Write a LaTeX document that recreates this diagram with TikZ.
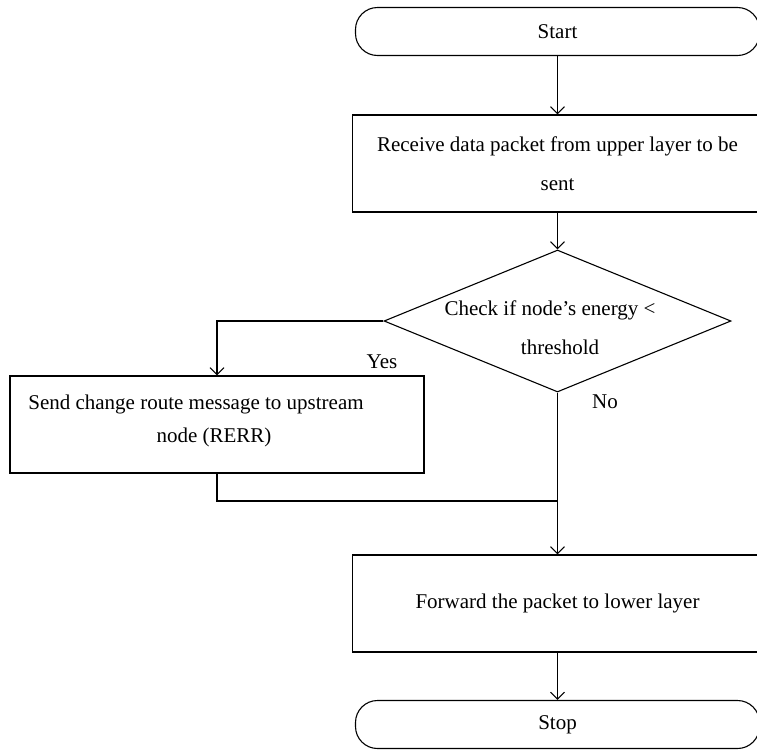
\documentclass[tikz,border=0pt]{standalone}
\usepackage{fontspec}
\setmainfont{Liberation Serif}
\usetikzlibrary{shapes.geometric,arrows.meta}
\begin{document}
\begin{tikzpicture}[x=1pt,y=-1pt,
  line width=1.1pt,
  every node/.style={font=\fontsize{21}{25}\selectfont},
  term/.style={draw,rectangle,rounded corners=22pt,minimum width=404pt,minimum height=48pt,inner sep=0pt},
  procbox/.style={draw,rectangle,minimum width=410pt,minimum height=97pt,inner sep=0pt,align=center},
  txt/.style={inner sep=0pt,anchor=center},
  arr/.style={-{Straight Barb[length=7pt,width=14pt]}}]
\useasboundingbox (0,0) rectangle (757,750);
% nodes
\node[term] (start) at (557.5,31.5) {Start};
\node[procbox] (recv) at (557.5,163.5) {Receive data packet from upper layer to be\\[14pt]sent};
\node[diamond,draw,minimum width=347pt,minimum height=142pt,inner sep=0pt] (chk) at (557.5,321) {};
\node[txt] (chk1) at (550,310) {Check if node’s energy <};
\node[txt] (chk2) at (560,347) {threshold};
\node[draw,rectangle,minimum width=414pt,minimum height=97pt,inner sep=0pt] (send) at (217,424.5) {};
\node[txt] (send1) at (196,404) {Send change route message to upstream};
\node[txt] (send2) at (214,437) {node (RERR)};
\node[procbox] (fwd) at (557.5,603.5) {Forward the packet to lower layer};
\node[term] (stop) at (557.5,724.5) {Stop};
\node[txt] (yes) at (382,362) {Yes};
\node[txt] (no) at (605,402) {No};
\coordinate (join) at (557.5,501);
% connectors
\draw[arr] (start.south) -- (recv.north);
\draw[arr] (recv.south) -- (chk.north);
\draw[arr] (chk.west) -| (send.north);
\draw (send.south) |- (join);
\draw[arr] (chk.south) -- (fwd.north);
\draw[arr] (fwd.south) -- (stop.north);
\end{tikzpicture}
\end{document}
